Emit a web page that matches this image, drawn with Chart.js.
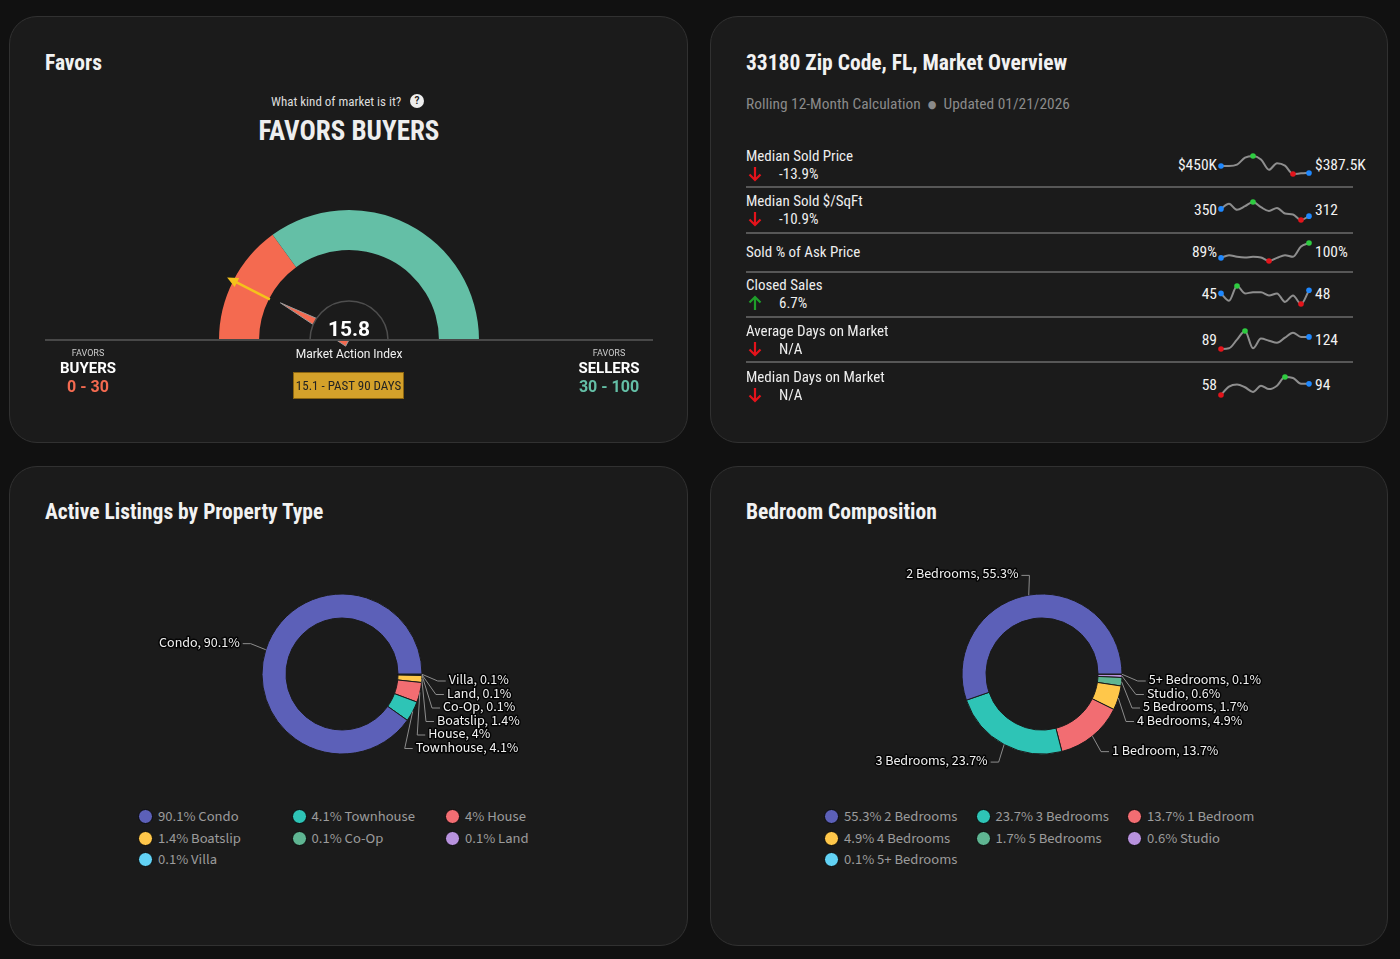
<!DOCTYPE html>
<html>
<head>
<meta charset="utf-8">
<script src="https://cdn.jsdelivr.net/npm/chart.js@4.4.1/dist/chart.umd.min.js"></script>
<style>
  html, body { margin: 0; padding: 0; }
  body { width: 1400px; height: 959px; background: #111111; position: relative; overflow: hidden;
         font-family: Roboto, "Noto Sans", sans-serif; color: #eee; }
  .card { position: absolute; background: #1b1b1b; border: 1px solid #313131; border-radius: 28px; box-sizing: border-box; }
  .abs { position: absolute; white-space: nowrap; }
  .cond { font-family: "Roboto Condensed", "Liberation Sans Narrow", "DejaVu Sans Condensed", Roboto, sans-serif; }
  .title { font-size: 21.5px; font-weight: bold; color: #f2f2f2; line-height: 26px; }
  canvas { position: absolute; }
  .leg { position: absolute; font-family: "Source Sans 3", "Source Sans Pro", Lato, "Noto Sans", sans-serif;
         font-size: 14.6px; color: #9c9c9c; line-height: 18px; white-space: nowrap; }
  .leg i { position: absolute; left: 0; top: 1px; width: 15px; height: 15px; border-radius: 50%;
           border: 1px solid #0a0a0a; box-sizing: border-box; }
  .leg span { position: absolute; left: 20px; top: 0; }
</style>
</head>
<body>

<div class="card" style="left:9px;top:16px;width:679px;height:427px;"></div>
<div class="card" style="left:710px;top:16px;width:678px;height:427px;"></div>
<div class="card" style="left:9px;top:466px;width:679px;height:480px;"></div>
<div class="card" style="left:710px;top:466px;width:678px;height:480px;"></div>

<!-- card 1 : favors gauge -->
<div class="abs cond title" style="left:45px;top:50px;">Favors</div>
<div class="abs cond" style="left:271px;top:94px;font-size:13px;color:#ddd;line-height:16px;">What kind of market is it?</div>
<div class="abs" style="left:410px;top:94px;width:14px;height:14px;border-radius:50%;background:#eee;color:#1b1b1b;font-size:10px;font-weight:bold;text-align:center;line-height:14px;">?</div>
<div class="abs cond" style="left:149px;width:400px;top:115px;text-align:center;font-size:27px;font-weight:bold;color:#eee;line-height:32px;">FAVORS BUYERS</div>

<canvas id="gauge" width="608" height="250" style="left:45px;top:150px;"></canvas>

<div class="abs" id="gaugeValue" style="left:299px;width:100px;top:316px;text-align:center;font-size:21px;font-weight:bold;color:#fff;line-height:26px;"></div>
<div class="abs" style="left:249px;width:200px;top:346px;text-align:center;font-size:12px;color:#f2f2f2;line-height:16px;">Market Action Index</div>
<div class="abs cond" id="pastBox" style="left:293px;top:372px;width:111px;height:27px;box-sizing:border-box;background:#d4a12a;border:1px solid #8a6410;color:#222;font-size:13px;text-align:center;line-height:25px;"></div>

<div class="abs" style="left:38px;width:100px;top:347px;text-align:center;font-size:9px;color:#ccc;line-height:12px;">FAVORS</div>
<div class="abs" style="left:38px;width:100px;top:359px;text-align:center;font-size:15px;font-weight:bold;color:#fff;line-height:18px;">BUYERS</div>
<div class="abs" id="buyersRange" style="left:38px;width:100px;top:377px;text-align:center;font-size:16px;font-weight:bold;color:#f46a50;line-height:20px;"></div>
<div class="abs" style="left:559px;width:100px;top:347px;text-align:center;font-size:9px;color:#ccc;line-height:12px;">FAVORS</div>
<div class="abs" style="left:559px;width:100px;top:359px;text-align:center;font-size:15px;font-weight:bold;color:#fff;line-height:18px;">SELLERS</div>
<div class="abs" id="sellersRange" style="left:559px;width:100px;top:377px;text-align:center;font-size:16px;font-weight:bold;color:#64bfa6;line-height:20px;"></div>

<!-- card 2 : market overview -->
<div class="abs cond title" style="left:746px;top:50px;">33180 Zip Code, FL, Market Overview</div>
<div class="abs cond" style="left:746px;top:95px;font-size:15.4px;color:#8a8a8a;line-height:19px;">Rolling 12-Month Calculation&nbsp;&nbsp;<span style="font-size:11px;position:relative;top:-1px;">&#9679;</span>&nbsp;&nbsp;Updated 01/21/2026</div>
<div id="rows"></div>

<!-- card 3 / 4 : doughnuts -->
<div class="abs cond title" style="left:45px;top:499px;">Active Listings by Property Type</div>
<div class="abs cond title" style="left:746px;top:499px;">Bedroom Composition</div>
<canvas id="typeChart" width="440" height="260" style="left:122px;top:544px;"></canvas>
<canvas id="bedChart" width="440" height="260" style="left:822px;top:544px;"></canvas>
<div id="typeLegend"></div>
<div id="bedLegend"></div>

<script>
// ---- gauge ----
var gaugeBands = [30, 70];            // buyers 0-30, sellers 30-100
var gaugeColors = ['#f46a50', '#64bfa6'];
var marketIndex = 15.8;
var pastIndex = 15.1;

// ---- market overview ----
var metricNames = ['Median Sold Price', 'Median Sold $/SqFt', 'Sold % of Ask Price', 'Closed Sales', 'Average Days on Market', 'Median Days on Market'];
var metricChange = ['-13.9%', '-10.9%', '', '6.7%', 'N/A', 'N/A'];
var metricDir = ['down', 'down', '', 'up', 'down', 'down'];
var metricFirst = ['$450K', '350', '89%', '45', '89', '58'];
var metricLast = ['$387.5K', '312', '100%', '48', '124', '94'];
var sparkMonths = ['Feb', 'Mar', 'Apr', 'May', 'Jun', 'Jul', 'Aug', 'Sep', 'Oct', 'Nov', 'Dec', 'Jan'];
var soldPrice = [450, 450, 462, 525, 540, 509, 416, 475, 453, 378, 384, 387.5];
var soldPerSqft = [350, 377, 345, 364, 386, 359, 339, 355, 326, 321, 292, 312];
var soldPctAsk = [89, 91, 89.8, 89.3, 89.8, 89.3, 86.7, 89, 91, 89.8, 97.4, 100];
var closedSales = [45, 38, 52, 45, 46, 46, 43, 45, 37, 43, 35, 48];
var avgDom = [89, 91, 116, 141, 91, 119, 113, 107, 122, 136, 124, 124];
var medianDom = [58, 85, 92, 83, 68, 88, 77, 88, 116, 113, 94, 94];
var sparkSeries = [soldPrice, soldPerSqft, soldPctAsk, closedSales, avgDom, medianDom];

// ---- doughnuts ----
var propertyTypes = ['Condo', 'Townhouse', 'House', 'Boatslip', 'Co-Op', 'Land', 'Villa'];
var propertyShares = [90.1, 4.1, 4, 1.4, 0.1, 0.1, 0.1];
var bedroomTypes = ['2 Bedrooms', '3 Bedrooms', '1 Bedroom', '4 Bedrooms', '5 Bedrooms', 'Studio', '5+ Bedrooms'];
var bedroomShares = [55.3, 23.7, 13.7, 4.9, 1.7, 0.6, 0.1];
var sliceColors = ['#5c60b8', '#2ec4b6', '#f26d72', '#ffc74a', '#5fb592', '#b892de', '#62d2f5'];

// layout of the overview rows
var rowLabelY = [156, 201, 252, 285, 331, 377];
var rowSubY = [174, 219, 0, 303, 349, 395];
var rowValueY = [165, 210, 252, 294, 340, 385];
var rowSparkTop = [152, 198, 239, 282, 327, 373];
var dividerY = [187, 233, 272, 317, 362];

document.getElementById('gaugeValue').textContent = marketIndex;
document.getElementById('pastBox').textContent = pastIndex + ' - PAST 90 DAYS';
document.getElementById('buyersRange').textContent = '0 - ' + gaugeBands[0];
document.getElementById('sellersRange').textContent = gaugeBands[0] + ' - ' + (gaugeBands[0] + gaugeBands[1]);

// gauge overlay: base line, needle, cap and 90 day marker
var gaugePlugin = {
    id: 'gaugeMarks',
    afterDatasetsDraw: function(chart) {
        var ctx = chart.ctx;
        var arc = chart.getDatasetMeta(0).data[0];
        var cx = arc.x, cy = arc.y, rIn = arc.innerRadius, rOut = arc.outerRadius;
        var total = gaugeBands[0] + gaugeBands[1];
        ctx.save();

        // needle
        var a = Math.PI + Math.PI * marketIndex / total;
        var tip = 78, half = 7;
        ctx.beginPath();
        ctx.moveTo(cx + Math.cos(a) * tip, cy + Math.sin(a) * tip);
        ctx.lineTo(cx + Math.cos(a + Math.PI / 2) * half, cy + Math.sin(a + Math.PI / 2) * half);
        ctx.lineTo(cx + Math.cos(a - Math.PI / 2) * half, cy + Math.sin(a - Math.PI / 2) * half);
        ctx.closePath();
        ctx.fillStyle = gaugeColors[0];
        ctx.fill();
        ctx.strokeStyle = '#9a9a9a';
        ctx.lineWidth = 1;
        ctx.stroke();

        // cap
        ctx.beginPath();
        ctx.arc(cx, cy, 39, Math.PI, 2 * Math.PI);
        ctx.fillStyle = '#1b1b1b';
        ctx.fill();
        ctx.strokeStyle = '#4e4e4e';
        ctx.lineWidth = 1.5;
        ctx.stroke();

        // base line
        ctx.beginPath();
        ctx.moveTo(chart.chartArea.left, cy);
        ctx.lineTo(chart.chartArea.right, cy);
        ctx.strokeStyle = '#484848';
        ctx.lineWidth = 2;
        ctx.stroke();

        // past 90 days marker
        var b = Math.PI + Math.PI * pastIndex / total;
        var cb = Math.cos(b), sb = Math.sin(b);
        ctx.beginPath();
        ctx.moveTo(cx + cb * (rIn - 1), cy + sb * (rIn - 1));
        ctx.lineTo(cx + cb * (rOut - 2), cy + sb * (rOut - 2));
        ctx.strokeStyle = '#f5c21b';
        ctx.lineWidth = 2.5;
        ctx.stroke();
        var px = -sb, py = cb;
        ctx.beginPath();
        ctx.moveTo(cx + cb * (rOut + 7), cy + sb * (rOut + 7));
        ctx.lineTo(cx + cb * (rOut - 4) + px * 5, cy + sb * (rOut - 4) + py * 5);
        ctx.lineTo(cx + cb * (rOut - 4) - px * 5, cy + sb * (rOut - 4) - py * 5);
        ctx.closePath();
        ctx.fillStyle = '#f5c21b';
        ctx.fill();
        ctx.restore();
    }
};

new Chart(document.getElementById('gauge'), {
    type: 'doughnut',
    data: {
        labels: ['Buyers', 'Sellers'],
        datasets: [{ data: gaugeBands, backgroundColor: gaugeColors, borderWidth: 0 }]
    },
    options: {
        responsive: false,
        animation: false,
        events: [],
        rotation: -90,
        circumference: 180,
        radius: 130,
        cutout: '69.2%',
        layout: { padding: 0 },
        plugins: { legend: { display: false }, tooltip: { enabled: false } }
    },
    plugins: [gaugePlugin]
});

// overview rows
var rowsEl = document.getElementById('rows');
function arrowSvg(dir) {
    var col = dir == 'up' ? '#1f9e2a' : '#e5131b';
    var path = dir == 'up'
        ? '<path d="M7 15 V2 M1.5 7.5 L7 2 L12.5 7.5" />'
        : '<path d="M7 1 V14 M1.5 8.5 L7 14 L12.5 8.5" />';
    return '<svg width="14" height="16" viewBox="0 0 14 16" fill="none" stroke="' + col + '" stroke-width="2.2">' + path + '</svg>';
}
for (var i = 0; i < metricNames.length; i++) {
    var h = '';
    h += '<div class="abs cond" style="left:746px;top:' + (rowLabelY[i] - 10) + 'px;font-size:15px;line-height:20px;color:#eee;">' + metricNames[i] + '</div>';
    if (metricDir[i]) {
        h += '<div class="abs" style="left:748px;top:' + (rowSubY[i] - 8) + 'px;">' + arrowSvg(metricDir[i]) + '</div>';
        h += '<div class="abs cond" style="left:779px;top:' + (rowSubY[i] - 10) + 'px;font-size:15px;line-height:20px;color:#eee;">' + metricChange[i] + '</div>';
    }
    h += '<div class="abs cond" style="left:1117px;width:100px;text-align:right;top:' + (rowValueY[i] - 10) + 'px;font-size:15.5px;line-height:20px;color:#f2f2f2;">' + metricFirst[i] + '</div>';
    h += '<div class="abs cond" style="left:1315px;top:' + (rowValueY[i] - 10) + 'px;font-size:15.5px;line-height:20px;color:#f2f2f2;">' + metricLast[i] + '</div>';
    h += '<canvas id="spark' + i + '" width="96" height="26" style="left:1217px;top:' + rowSparkTop[i] + 'px;"></canvas>';
    rowsEl.insertAdjacentHTML('beforeend', h);
}
for (var d = 0; d < dividerY.length; d++) {
    rowsEl.insertAdjacentHTML('beforeend', '<div class="abs" style="left:746px;width:607px;top:' + (dividerY[d] - 1) + 'px;height:2px;background:#575757;"></div>');
}

function drawSpark(canvas, values) {
    var hi = Math.max.apply(null, values), lo = Math.min.apply(null, values);
    var iHi = values.indexOf(hi), iLo = values.indexOf(lo), last = values.length - 1;
    var colors = [], radii = [];
    for (var k = 0; k < values.length; k++) {
        var c = 'rgba(0,0,0,0)', r = 0;
        if (k == 0 || k == last) { c = '#1e88ff'; r = 2.8; }
        if (k == iLo) { c = '#e3141b'; r = 2.8; }
        if (k == iHi) { c = '#2ecc40'; r = 2.8; }
        colors.push(c); radii.push(r);
    }
    new Chart(canvas, {
        type: 'line',
        data: {
            labels: sparkMonths,
            datasets: [{
                data: values,
                borderColor: '#8e8e8e',
                borderWidth: 2,
                cubicInterpolationMode: 'monotone',
                clip: false,
                pointRadius: radii,
                pointBackgroundColor: colors,
                pointBorderWidth: 0
            }]
        },
        options: {
            responsive: false,
            animation: false,
            events: [],
            layout: { padding: 4 },
            plugins: { legend: { display: false }, tooltip: { enabled: false } },
            scales: {
                x: { display: false },
                y: { display: false, bounds: 'data', min: lo, max: hi }
            }
        }
    });
}
for (var s = 0; s < sparkSeries.length; s++) {
    drawSpark(document.getElementById('spark' + s), sparkSeries[s]);
}

// outside labels with connectors for the doughnuts
var sliceLabelPlugin = {
    id: 'sliceLabels',
    afterDatasetsDraw: function(chart, args, opts) {
        var ctx = chart.ctx;
        var meta = chart.getDatasetMeta(0);
        var R = opts.radius, gap = opts.gap, step = opts.spacing;
        var items = [];
        meta.data.forEach(function(arc, idx) {
            var p = arc.getProps(['x', 'y', 'startAngle', 'endAngle', 'outerRadius'], true);
            var a = (p.startAngle + p.endAngle) / 2;
            items.push({ cx: p.x, cy: p.y, a: a, r: p.outerRadius, dy: R * Math.sin(a),
                         right: Math.cos(a) >= 0, text: opts.labels[idx] });
        });
        [true, false].forEach(function(side) {
            var list = items.filter(function(it) { return it.right == side; });
            list.sort(function(p, q) { return p.dy - q.dy; });
            var prev = side ? opts.minDy - step : -1e9;
            list.forEach(function(it) {
                it.dy = Math.max(it.dy, prev + step);
                prev = it.dy;
            });
        });
        ctx.save();
        ctx.font = '14px "Source Sans 3", "Source Sans Pro", Lato, "Noto Sans", sans-serif';
        ctx.textBaseline = 'middle';
        items.forEach(function(it) {
            var dx = Math.sqrt(Math.max(R * R - it.dy * it.dy, 0));
            var sign = it.right ? 1 : -1;
            var ly = it.cy + it.dy;
            var lx = it.cx + sign * (dx + gap);
            ctx.beginPath();
            ctx.moveTo(it.cx + Math.cos(it.a) * it.r, it.cy + Math.sin(it.a) * it.r);
            ctx.lineTo(lx - sign * 11, ly);
            ctx.lineTo(lx - sign * 3, ly);
            ctx.strokeStyle = '#8d8d8d';
            ctx.lineWidth = 1;
            ctx.stroke();
            ctx.textAlign = it.right ? 'left' : 'right';
            ctx.lineJoin = 'round';
            ctx.strokeStyle = 'rgba(0,0,0,0.85)';
            ctx.lineWidth = 3;
            ctx.strokeText(it.text, lx, ly);
            ctx.fillStyle = '#f0f0f0';
            ctx.fillText(it.text, lx, ly);
        });
        ctx.restore();
    }
};

function drawDonut(canvasId, names, shares) {
    // slices run clockwise from 3 o'clock, smallest first
    var n = names.slice().reverse();
    var v = shares.slice().reverse();
    var c = sliceColors.slice(0, names.length).reverse();
    var txt = n.map(function(name, k) { return name + ', ' + v[k] + '%'; });
    new Chart(document.getElementById(canvasId), {
        type: 'doughnut',
        data: { labels: n, datasets: [{ data: v, backgroundColor: c, borderColor: '#1b1b1b', borderWidth: 1 }] },
        options: {
            responsive: false,
            animation: false,
            events: [],
            rotation: 90,
            radius: 80,
            cutout: '70%',
            layout: { padding: 0 },
            plugins: {
                legend: { display: false },
                tooltip: { enabled: false },
                sliceLabels: { labels: txt, radius: 100, gap: 7, spacing: 13.5, minDy: 7 }
            }
        },
        plugins: [sliceLabelPlugin]
    });
}
drawDonut('typeChart', propertyTypes, propertyShares);
drawDonut('bedChart', bedroomTypes, bedroomShares);

function drawLegend(elId, names, shares, left, colW) {
    var el = document.getElementById(elId);
    var h = '';
    for (var k = 0; k < names.length; k++) {
        var col = k % 3, row = Math.floor(k / 3);
        h += '<div class="leg" style="left:' + (left + col * colW) + 'px;top:' + (808 + row * 21.5) + 'px;">' +
             '<i style="background:' + sliceColors[k] + '"></i><span>' + shares[k] + '% ' + names[k] + '</span></div>';
    }
    el.innerHTML = h;
}
drawLegend('typeLegend', propertyTypes, propertyShares, 138, 153.5);
drawLegend('bedLegend', bedroomTypes, bedroomShares, 824, 151.5);
</script>
</body>
</html>
